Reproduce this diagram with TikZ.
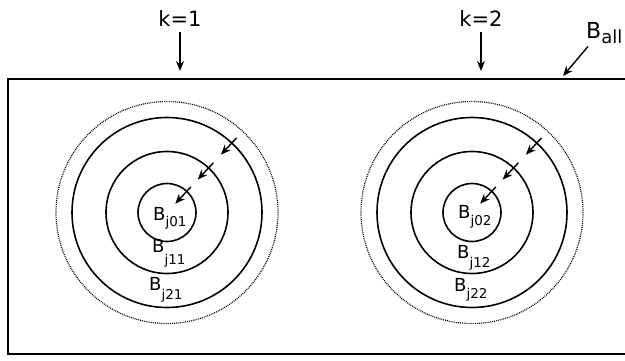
\documentclass[tikz,border=0pt]{standalone}
\usepackage{fontspec}
\setmainfont{DejaVu Sans}
\usetikzlibrary{arrows.meta,calc}
\newcommand{\bsub}[2]{{\fontsize{18}{18}\selectfont B}\raisebox{-#1pt}{\fontsize{13.5}{13.5}\selectfont #2}}
\begin{document}
\begin{tikzpicture}[x=1pt,y=-1pt,
  ring/.style={circle,draw,line width=1.6pt,inner sep=0pt,minimum size=#1},
  dotring/.style={circle,draw,line width=1.2pt,dash pattern=on 0.9pt off 1pt,inner sep=0pt,minimum size=#1},
  arr/.style={line width=1.4pt,-{Stealth[length=10pt,width=8pt]}},
  toplab/.style={font=\fontsize{21}{21}\selectfont,inner sep=0pt,anchor=base},
  lab/.style={inner sep=0pt,anchor=base west}]
\useasboundingbox (0,0) rectangle (625,360);
\fill[white] (0,0) rectangle (625,360);
% frame
\draw[line width=1.9pt] (8,79) rectangle (640,354);
% top labels
\node[toplab] (k1) at (180,26) {k=1};
\node[toplab] (k2) at (481,26) {k=2};
\coordinate (k1e) at (180,71);
\coordinate (k2e) at (481,71);
\draw[arr] (k1.south) ++(0,6) -- (k1e);
\draw[arr] (k2.south) ++(0,6) -- (k2e);
\node[inner sep=0pt,anchor=base west] (ball) at (586,38) {{\fontsize{22}{22}\selectfont B}\raisebox{-5pt}{\fontsize{18}{18}\selectfont all}};
\coordinate (balle) at (563,76);
\draw[arr] ($(ball.south west)+(2,3)$) -- (balle);
% rings
\foreach \n/\cx in {L/167,R/472}{
  \node[dotring=222pt] (\n d) at (\cx,212.5) {};
  \node[ring=190pt] (\n o) at (\cx,212.5) {};
  \node[ring=122pt] (\n m) at (\cx,212.5) {};
  \node[ring=58pt] (\n i) at (\cx,212.5) {};
  \draw[arr] ($(\n o.center)+(47:102pt)$) -- ($(\n o.center)+(47:79pt)$);
  \draw[arr] ($(\n m.center)+(47:68pt)$) -- ($(\n m.center)+(47:45pt)$);
  \draw[arr] ($(\n i.center)+(47:35pt)$) -- ($(\n i.center)+(47:12pt)$);
}
\node[lab] (bj01) at (153,220) {\bsub{6}{j01}};
\node[lab] (bj11) at (152,252) {\bsub{12}{j11}};
\node[lab] (bj21) at (149,290) {\bsub{9}{j21}};
\node[lab] (bj02) at (458,218) {\bsub{7}{j02}};
\node[lab] (bj12) at (457,258) {\bsub{9}{j12}};
\node[lab] (bj22) at (454,291) {\bsub{7}{j22}};
\end{tikzpicture}
\end{document}
